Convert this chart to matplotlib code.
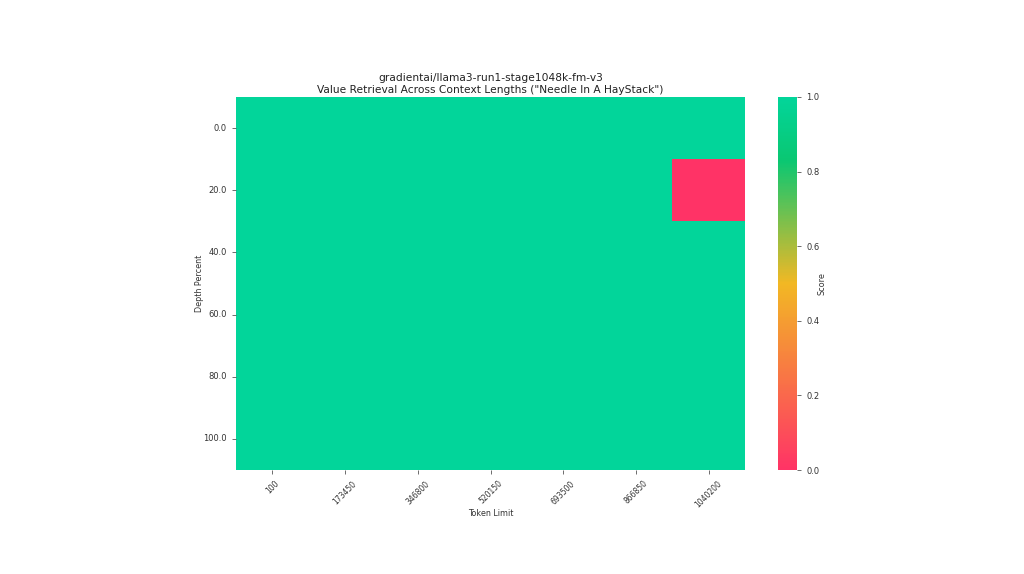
import numpy as np
import pandas as pd
import matplotlib
matplotlib.use("Agg")
import matplotlib.pyplot as plt
import seaborn as sns
from matplotlib.colors import LinearSegmentedColormap

# Token limits (columns) and depth percents (rows)
token_limits = [100, 173450, 346800, 520150, 693500, 866850, 1040200]
depth_percents = [0.0, 20.0, 40.0, 60.0, 80.0, 100.0]

# Scores per depth row
scores_d0 = [1, 1, 1, 1, 1, 1, 1]
scores_d20 = [1, 1, 1, 1, 1, 1, 0]
scores_d40 = [1, 1, 1, 1, 1, 1, 1]
scores_d60 = [1, 1, 1, 1, 1, 1, 1]
scores_d80 = [1, 1, 1, 1, 1, 1, 1]
scores_d100 = [1, 1, 1, 1, 1, 1, 1]

df = pd.DataFrame([scores_d0, scores_d20, scores_d40, scores_d60, scores_d80, scores_d100],
                  index=depth_percents, columns=token_limits)

cmap = LinearSegmentedColormap.from_list(
    "custom_cmap",
    [(0.0, "#FF3366"), (0.5, "#F2B824"), (0.83, "#0AC772"), (1.0, "#02D59A")])

fig = plt.figure(figsize=(10.24, 5.74), dpi=100)
ax = fig.add_axes([236/1024, 1 - 470/574, 509/1024, 373/574])
cax = fig.add_axes([778/1024, 1 - 470/574, 19/1024, 373/574])

sns.heatmap(df, cmap=cmap, vmin=0, vmax=1, ax=ax, cbar_ax=cax,
            cbar_kws={"label": "Score"})

ax.set_title('gradientai/llama3-run1-stage1048k-fm-v3\n'
             'Value Retrieval Across Context Lengths ("Needle In A HayStack")',
             fontsize=7.7, color="#222222", pad=3)
ax.set_xlabel("Token Limit", fontsize=5.8, color="#333333", labelpad=0)
ax.set_ylabel("Depth Percent", fontsize=5.8, color="#333333", labelpad=-0.5)
ax.set_xticklabels([str(t) for t in token_limits], rotation=45, fontsize=5.5, color="#333333")
ax.set_yticklabels([str(d) for d in depth_percents], rotation=0, fontsize=6, color="#333333")
ax.tick_params(length=3, width=0.6, colors="#555555", labelcolor="#333333")

cax.tick_params(labelsize=6, length=3, width=0.6, colors="#555555", labelcolor="#333333")
cax.set_ylabel("Score", fontsize=5.8, color="#333333", labelpad=-1)

fig.savefig("out.png", dpi=100)
